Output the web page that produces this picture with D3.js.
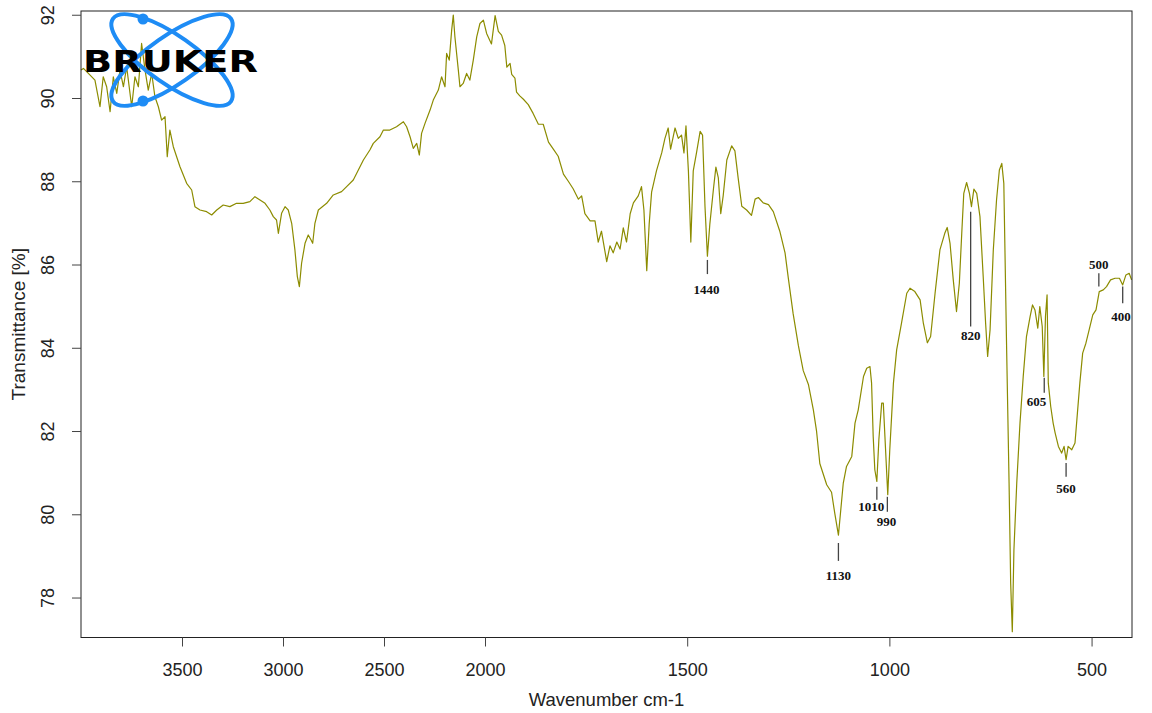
<html>
<head>
<script src="https://d3js.org/d3.v7.min.js" charset="utf-8"></script>
<style>
  body { margin: 0; background: #fff; }
  text { font-family: "Liberation Sans", Arial, sans-serif; fill: #222; }
</style>
</head>
<body>
<script>
// FTIR spectrum (wavenumber in cm-1, transmittance in %)
var wavenumber = [
  4000, 3988, 3955, 3931, 3906, 3890, 3873, 3856, 3840, 3823, 3807, 3790, 3774, 3749, 3733, 3716,
  3700, 3683, 3667, 3650, 3634, 3617, 3601, 3584, 3573, 3560, 3543, 3510, 3477, 3452, 3436, 3411,
  3378, 3353, 3328, 3296, 3263, 3230, 3197, 3164, 3139, 3114, 3089, 3065, 3048, 3032, 3023, 3007,
  2990, 2974, 2957, 2941, 2929, 2919, 2908, 2891, 2875, 2861, 2853, 2842, 2825, 2784, 2751, 2710,
  2685, 2652, 2627, 2602, 2570, 2553, 2520, 2503, 2471, 2438, 2404, 2388, 2371, 2355, 2338, 2325,
  2314, 2297, 2272, 2256, 2231, 2215, 2198, 2190, 2177, 2165, 2157, 2149, 2132, 2124, 2108, 2091,
  2075, 2058, 2041, 2025, 2008,
  1996, 1984, 1975, 1967, 1959, 1951, 1946, 1938, 1934, 1926, 1922, 1914, 1905, 1893, 1881, 1868,
  1856, 1843, 1831, 1819, 1806, 1794, 1782, 1769, 1761, 1753, 1740, 1728, 1720, 1712, 1699, 1691,
  1683, 1674, 1666, 1658, 1650, 1641, 1633, 1621, 1613, 1607, 1600, 1594, 1588, 1576, 1563, 1555,
  1547, 1541, 1530, 1522, 1514, 1508, 1503, 1497, 1491, 1485, 1477, 1468, 1462, 1456, 1450, 1444,
  1435, 1429, 1423, 1417, 1411, 1402, 1390, 1382, 1374, 1365, 1353, 1341, 1332, 1324, 1312, 1299,
  1287, 1271, 1258, 1250, 1238, 1225, 1213, 1200, 1188, 1180, 1172, 1155, 1143, 1135, 1126,
  1114, 1106, 1093, 1085, 1077, 1064, 1056, 1048, 1044, 1040, 1036, 1031, 1026, 1019, 1015, 1011,
  1004, 999, 990, 982, 970, 957, 949, 937, 924, 916, 906, 898, 887, 875, 863, 857,
  850, 842, 834, 827, 821, 816, 809, 802, 797, 791, 784, 776, 768, 762, 757, 751,
  743, 735, 728, 722, 717, 710, 704, 700, 696, 692, 685, 677, 669, 661, 652, 646,
  640, 633, 628, 622, 618, 614, 610, 607, 601, 595, 590, 582, 574, 568, 563, 558,
  549, 541, 535, 529, 522, 514, 506, 497, 489, 481, 471, 463, 453, 442, 431, 423,
  415, 407, 401
];
var transmittance = [
  90.67, 90.71, 90.55, 90.43, 89.79, 90.51, 90.27, 89.67, 90.51, 90.11, 90.67, 90.27, 90.75, 89.79, 90.51, 90.27,
  91.31, 90.67, 90.19, 90.59, 90.03, 89.79, 89.47, 89.55, 88.59, 89.23, 88.83, 88.35, 87.95, 87.79, 87.39, 87.31,
  87.27, 87.19, 87.31, 87.43, 87.39, 87.47, 87.47, 87.51, 87.63, 87.55, 87.47, 87.31, 87.15, 87.07, 86.75, 87.23,
  87.39, 87.31, 86.99, 86.35, 85.71, 85.47, 86.03, 86.51, 86.71, 86.59, 86.51, 86.99, 87.31, 87.47, 87.67, 87.75,
  87.87, 88.03, 88.27, 88.51, 88.75, 88.91, 89.07, 89.23, 89.23, 89.31, 89.43, 89.31, 89.07, 88.79, 88.91, 88.63,
  89.15, 89.39, 89.71, 89.95, 90.19, 90.51, 90.27, 91.07, 90.91, 91.63, 91.99, 91.47, 90.67, 90.27, 90.35, 90.59,
  90.43, 90.91, 91.47, 91.79, 91.87,
  91.55, 91.30, 91.98, 91.60, 91.51, 91.26, 90.74, 90.83, 90.57, 90.48, 90.14, 90.05, 89.97, 89.84, 89.63, 89.37,
  89.37, 88.94, 88.77, 88.60, 88.17, 88.00, 87.82, 87.57, 87.65, 87.22, 87.05, 87.05, 86.54, 86.80, 86.07, 86.45,
  86.28, 86.54, 86.37, 86.88, 86.54, 87.22, 87.48, 87.65, 87.87, 87.31, 85.85, 86.97, 87.74, 88.25, 88.68, 89.03,
  89.28, 88.77, 89.28, 89.03, 89.11, 88.68, 89.33, 88.25, 86.54, 88.25, 88.68, 89.20, 89.11, 87.40, 86.20, 86.97,
  87.82, 88.34, 88.08, 87.22, 87.65, 88.51, 88.85, 88.73, 88.08, 87.40, 87.31, 87.18, 87.57, 87.61, 87.48, 87.44,
  87.27, 86.80, 86.28, 85.68, 84.82, 84.05, 83.45, 83.11, 82.51, 81.99, 81.22, 80.71, 80.53, 80.02, 79.50,
  80.75, 81.15, 81.39, 82.19, 82.51, 83.31, 83.51, 83.55, 83.15, 81.87, 81.07, 80.79, 81.79, 82.67, 82.67, 81.87,
  80.47, 81.55, 83.15, 83.95, 84.59, 85.31, 85.43, 85.35, 85.15, 84.59, 84.12, 84.27, 85.31, 86.35, 86.75, 86.89,
  86.51, 85.63, 84.87, 85.55, 86.75, 87.71, 87.97, 87.71, 87.39, 87.81, 87.71, 87.15, 85.71, 84.59, 83.79, 84.43,
  86.35, 87.55, 88.27, 88.43, 87.95, 83.95, 80.75, 78.34, 77.18, 79.14, 80.75, 82.19, 83.31, 84.27, 84.75, 85.03,
  84.91, 84.47, 84.99, 84.51, 83.31, 84.75, 85.27, 83.15, 82.59, 82.19, 81.95, 81.63, 81.47, 81.63, 81.31, 81.63,
  81.55, 81.71, 82.43, 83.15, 83.87, 84.11, 84.43, 84.79, 84.91, 85.35, 85.39, 85.47, 85.63, 85.67, 85.67, 85.51,
  85.75, 85.79, 85.63
];

// axis ticks
var xTicks = [3500, 3000, 2500, 2000, 1500, 1000, 500];
var yTicks = [78, 80, 82, 84, 86, 88, 90, 92];

// peak marks: label, where the little line sits, and where its text sits
var peakLabel = ["1440", "1130", "1010", "990", "820", "605", "560", "500", "400"];
var peakWn    = [1450, 1126, 1031, 1005, 799, 617, 563, 482, 423];
var peakTop   = [86.11, 79.31, 80.66, 80.42, 87.27, 83.28, 81.23, 85.79, 85.47];
var peakBot   = [85.77, 78.88, 80.35, 80.06, 84.51, 82.92, 80.90, 85.47, 85.07];
var labelWn   = [1452, 1126, 1045, 1007, 799, 636, 563, 482, 427];
var labelT    = [85.39, 78.54, 80.18, 79.82, 84.29, 82.72, 80.61, 85.99, 84.76];

var width = 1152, height = 713;
var plotLeft = 81, plotRight = 1132, plotTop = 11, plotBottom = 637.5;

var svg = d3.select("body").append("svg")
    .attr("width", width)
    .attr("height", height);

// the spectrometer uses a split scale: 4000-2000 is squeezed to half
var x = d3.scaleLinear().domain([4000, 2000, 400]).range([plotLeft, 485, plotRight]);
var y = d3.scaleLinear().domain([77.04, 92.09]).range([plotBottom, plotTop]);

var spectrum = d3.zip(wavenumber, transmittance);

svg.append("path")
    .datum(spectrum)
    .attr("fill", "none")
    .attr("stroke", "#8c8c00")
    .attr("stroke-width", 1.2)
    .attr("stroke-linejoin", "round")
    .attr("d", d3.line().x(function(d) { return x(d[0]); }).y(function(d) { return y(d[1]); }));

// peak marks
var peaks = d3.range(peakLabel.length);
svg.selectAll(".peakline").data(peaks).enter().append("line")
    .attr("x1", function(i) { return x(peakWn[i]); })
    .attr("x2", function(i) { return x(peakWn[i]); })
    .attr("y1", function(i) { return y(peakTop[i]); })
    .attr("y2", function(i) { return y(peakBot[i]); })
    .attr("stroke", "#444")
    .attr("stroke-width", 1.3);
svg.selectAll(".peaktext").data(peaks).enter().append("text")
    .attr("x", function(i) { return x(labelWn[i]); })
    .attr("y", function(i) { return y(labelT[i]); })
    .attr("dy", "0.35em")
    .attr("text-anchor", "middle")
    .style("font-family", "'Liberation Serif', 'Times New Roman', serif")
    .style("font-weight", "bold")
    .style("font-size", "13px")
    .style("fill", "#111")
    .text(function(i) { return peakLabel[i]; });

// frame
svg.append("rect")
    .attr("x", plotLeft).attr("y", plotTop)
    .attr("width", plotRight - plotLeft).attr("height", plotBottom - plotTop)
    .attr("fill", "none")
    .attr("stroke", "#222")
    .attr("stroke-width", 1);

var xAxis = svg.append("g")
    .attr("transform", "translate(0," + plotBottom + ")")
    .call(d3.axisBottom(x).tickValues(xTicks).tickSize(9).tickSizeOuter(0).tickFormat(d3.format("d")));
xAxis.select(".domain").remove();
xAxis.selectAll("line").attr("stroke", "#444");
xAxis.selectAll("text")
    .attr("y", null).attr("dy", null)
    .attr("transform", "translate(0,38)")
    .style("font-size", "18px")
    .style("font-family", "'Liberation Sans', Arial, sans-serif")
    .style("fill", "#222");

var yAxis = svg.append("g")
    .attr("transform", "translate(" + plotLeft + ",0)")
    .call(d3.axisLeft(y).tickValues(yTicks).tickSize(9).tickSizeOuter(0));
yAxis.select(".domain").remove();
yAxis.selectAll("line").attr("stroke", "#444");
yAxis.selectAll("text")
    .attr("x", null).attr("dy", null)
    .attr("text-anchor", "middle")
    .attr("transform", "translate(-27,0) rotate(-90)")
    .style("font-size", "18px")
    .style("font-family", "'Liberation Sans', Arial, sans-serif")
    .style("fill", "#222");

svg.append("text")
    .attr("x", (plotLeft + plotRight) / 2)
    .attr("y", 706)
    .attr("text-anchor", "middle")
    .style("font-size", "18.5px")
    .text("Wavenumber cm-1");

svg.append("text")
    .attr("transform", "translate(25," + (plotTop + plotBottom) / 2 + ") rotate(-90)")
    .attr("text-anchor", "middle")
    .style("font-size", "19px")
    .text("Transmittance [%]");

// Bruker logo in the top left corner
var logo = svg.append("g").attr("transform", "translate(172,60)");
logo.append("ellipse")
    .attr("rx", 72).attr("ry", 24)
    .attr("transform", "rotate(35)")
    .attr("fill", "none").attr("stroke", "#1e8cf5").attr("stroke-width", 4);
logo.append("ellipse")
    .attr("rx", 72).attr("ry", 24)
    .attr("transform", "rotate(-35)")
    .attr("fill", "none").attr("stroke", "#1e8cf5").attr("stroke-width", 4);
logo.append("circle").attr("cx", -29).attr("cy", -41).attr("r", 5.5).attr("fill", "#1e8cf5");
logo.append("circle").attr("cx", -29).attr("cy", 41).attr("r", 5.5).attr("fill", "#1e8cf5");
logo.append("text")
    .attr("x", -89)
    .attr("y", 12)
    .attr("textLength", 175)
    .attr("lengthAdjust", "spacingAndGlyphs")
    .style("font-family", "'DejaVu Sans', sans-serif")
    .style("font-weight", "bold")
    .style("font-size", "31px")
    .style("fill", "#000")
    .text("BRUKER");
</script>
</body>
</html>
